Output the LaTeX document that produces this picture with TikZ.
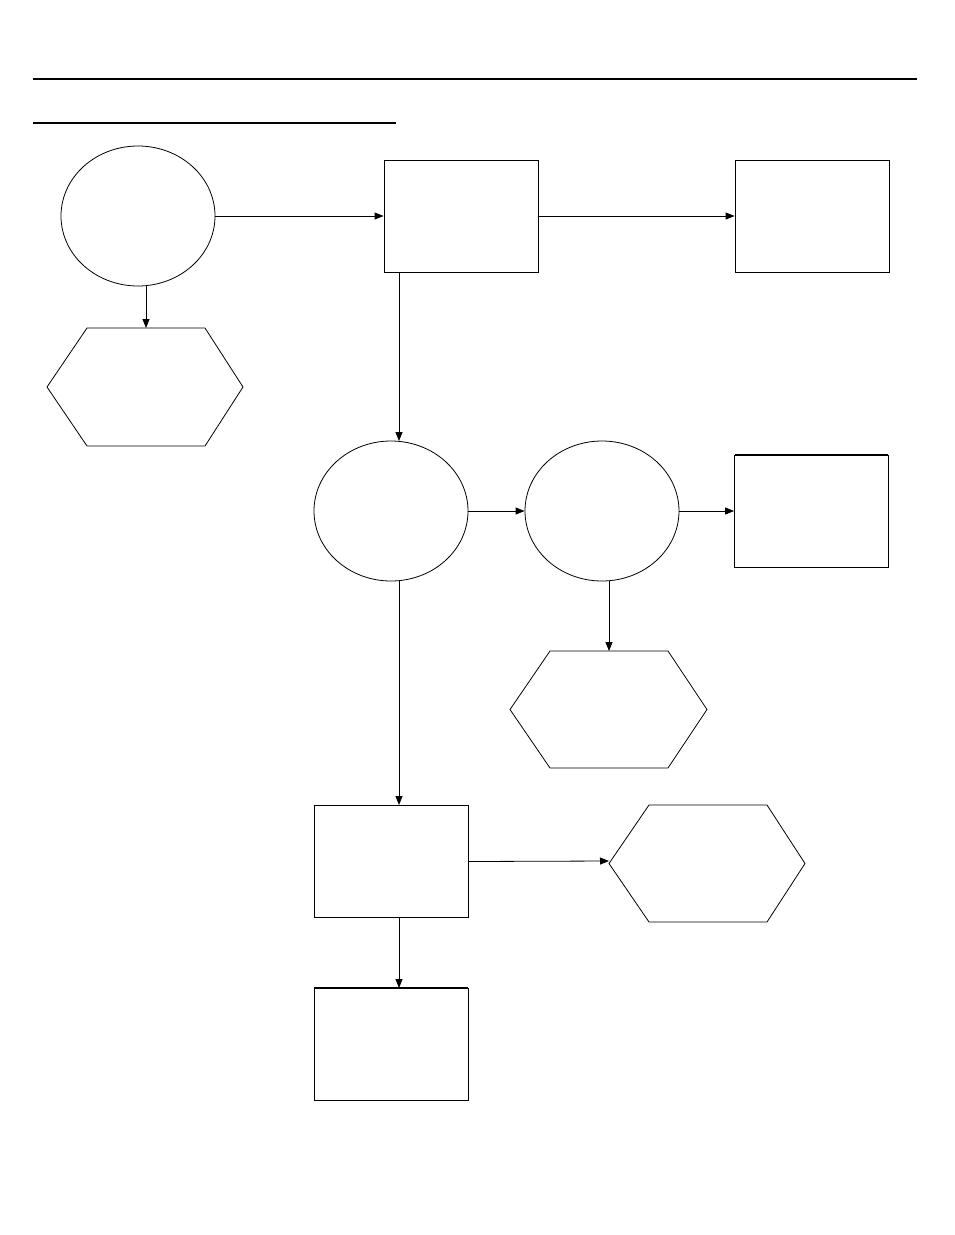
\documentclass[tikz,border=0pt]{standalone}
\usetikzlibrary{shapes.geometric,arrows.meta}
\begin{document}
\begin{tikzpicture}[x=1pt,y=-1pt,
  box/.style={draw,rectangle,minimum width=154pt,minimum height=112pt,inner sep=0pt,line width=0.8pt},
  oval/.style={draw,ellipse,minimum width=154pt,minimum height=140pt,inner sep=0pt,line width=0.8pt},
  hexa/.style={draw,line width=0.8pt},
  arr/.style={-{Triangle[length=9pt,width=7pt]},line width=0.8pt}]
\useasboundingbox (0,0) rectangle (954,1235);
\draw[line width=2pt] (33,79) -- (917,79);
\draw[line width=1.5pt] (33,123) -- (396,123);
\node[oval] (e1) at (138,216) {};
\node[oval] (e2) at (391,511) {};
\node[oval] (e3) at (602,511) {};
\node[box] (r1) at (461,216) {};
\node[box] (r2) at (812,216) {};
\node[box] (r3) at (811.5,511) {};
\draw[line width=1.5pt] (735,455) -- (888,455);
\node[box] (r4) at (391,861.5) {};
\node[box] (r5) at (391,1044) {};
\draw[line width=1.5pt] (314,988) -- (468,988);
\draw[hexa] (87,328) -- (205,328) -- (243,387) -- (205,446) -- (87,446) -- (47,387) -- cycle;
\draw[hexa] (550,651) -- (668,651) -- (707,709.5) -- (668,768) -- (550,768) -- (510,709.5) -- cycle;
\draw[hexa] (649,805) -- (767,805) -- (805,863.5) -- (767,922) -- (649,922) -- (609,863.5) -- cycle;
\coordinate (h1t) at (146,328);
\coordinate (h2t) at (609,651);
\coordinate (h3l) at (609,861);
\coordinate (r1b) at (399,272);
\coordinate (e2t) at (399,441);
\coordinate (e2b) at (399,581);
\coordinate (e3b) at (609,581);
\coordinate (r4t) at (399,805);
\coordinate (r4b) at (399,918);
\coordinate (r5t) at (399,988);
\draw[arr] (e1.east) -- (r1.west);
\draw[arr] (e1.south -| h1t) -- (h1t);
\draw[arr] (r1.east) -- (r2.west);
\draw[arr] (r1b) -- (e2t);
\draw[arr] (e2.east) -- (e3.west);
\draw[arr] (e3.east) -- (r3.west);
\draw[arr] (e3b) -- (h2t);
\draw[arr] (e2b) -- (r4t);
\draw[arr] (r4.east) -- (h3l);
\draw[arr] (r4b) -- (r5t);
\end{tikzpicture}
\end{document}
